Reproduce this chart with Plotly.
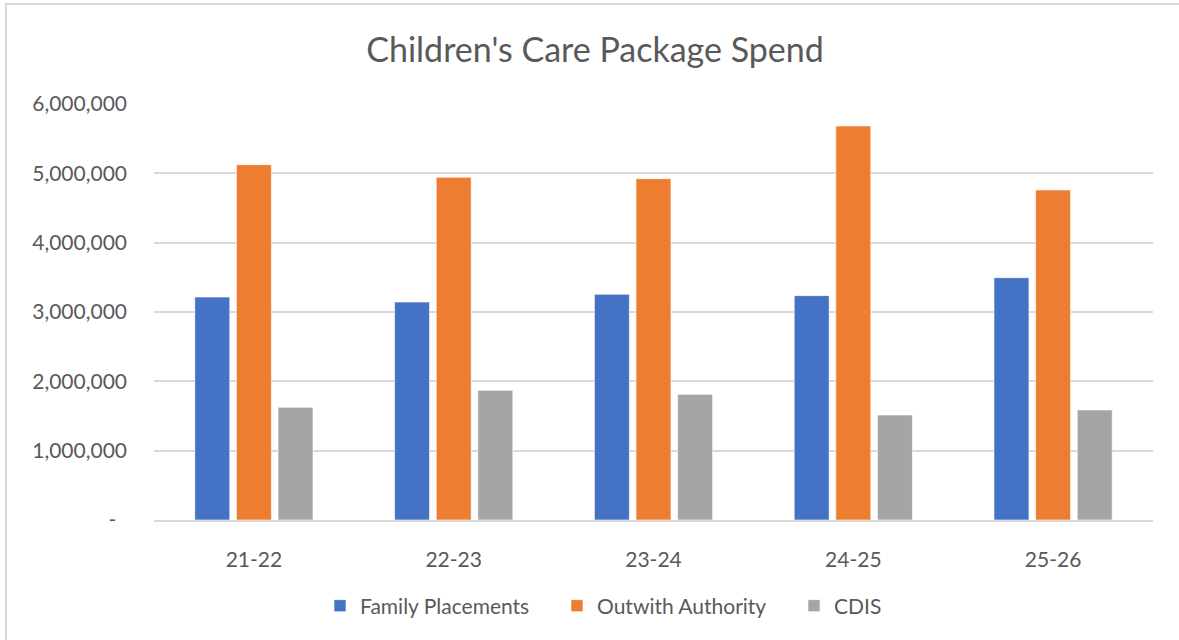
import plotly.graph_objects as go

# Spend per financial year for each care package type
years = ["21-22", "22-23", "23-24", "24-25", "25-26"]
family_placements = [3216000, 3144000, 3255000, 3236000, 3495000]
outwith_authority = [5125000, 4943000, 4923000, 5683000, 4760000]
cdis = [1625000, 1870000, 1813000, 1514000, 1587000]

y_ticks = [0, 1000000, 2000000, 3000000, 4000000, 5000000, 6000000]
y_tick_text = ["-\u00a0\u00a0", "1,000,000", "2,000,000", "3,000,000",
               "4,000,000", "5,000,000", "6,000,000"]

FONT = "Lato"
TEXT = "#595959"

fig = go.Figure()
series = [
    ("Family Placements", family_placements, "#4472C4"),
    ("Outwith Authority", outwith_authority, "#ED7D31"),
    ("CDIS", cdis, "#A5A5A5"),
]
for name, vals, color in series:
    fig.add_trace(go.Bar(
        name=name, x=years, y=vals,
        marker=dict(color=color, line=dict(color="rgba(255,255,255,0.6)", width=1)),
        hoverinfo="x+y+name",
    ))

# plot area spans x 154..1153, y 104..520 in the 1179x640 window
L, R, T, B = 154, 26, 104, 120
W, H = 1179, 640
pw, ph = W - L - R, H - T - B

def px_x(x):
    return (x - L) / pw

def px_y(y):
    return (H - B - y) / ph

fig.update_layout(
    width=W, height=H,
    margin=dict(l=L, r=R, t=T, b=B, autoexpand=False),
    paper_bgcolor="white", plot_bgcolor="white",
    barmode="group", bargap=0.375, bargroupgap=0.16,
    font=dict(family=FONT, color=TEXT, size=21),
    title=dict(text="Children's Care Package Spend",
               x=595 / W, xref="container", xanchor="center",
               y=1 - 50 / H, yref="container", yanchor="middle",
               font=dict(family=FONT, size=34, color=TEXT)),
    showlegend=True,
    legend=dict(orientation="h", x=px_x(320), xanchor="left", xref="paper",
                y=px_y(606), yanchor="middle",
                font=dict(family=FONT, size=21, color=TEXT),
                itemwidth=30, entrywidth=192, entrywidthmode="pixels",
                traceorder="normal"),
    xaxis=dict(showgrid=False, showline=True, linecolor="#D9D9D9", linewidth=1.5,
               ticks="", ticklabelstandoff=20, tickfont=dict(size=21, color=TEXT)),
    yaxis=dict(range=[0, 6000000], tickvals=y_ticks, ticktext=y_tick_text,
               showgrid=True, gridcolor="#D9D9D9", gridwidth=1.5,
               zeroline=False, showline=False, ticks="",
               ticklabelstandoff=26, tickfont=dict(size=21, color=TEXT)),
    shapes=[
        # outer chart frame (left and top edges)
        dict(type="rect", xref="paper", yref="paper",
             x0=px_x(6), x1=px_x(1200), y0=px_y(700), y1=px_y(4),
             line=dict(color="#D9D9D9", width=2), fillcolor="rgba(0,0,0,0)",
             layer="below"),
    ],
)

fig.write_html("out.html")
